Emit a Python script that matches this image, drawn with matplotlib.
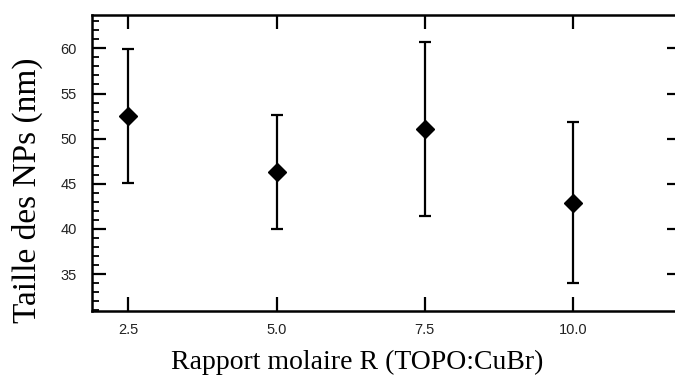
import numpy as np
import matplotlib
matplotlib.use('Agg')
from matplotlib import pyplot as plt
from matplotlib.ticker import MultipleLocator

# data
ratio = [2.5, 5.0, 7.5, 10.0]
size_nm = [52.5, 46.3, 51.1, 42.9]
err_low = [45.05, 40.0, 41.4, 34.0]
err_high = [59.9, 52.6, 60.7, 51.8]
xlabels = ['2.5', '5.0', '7.5', '10.0']

yerr = [np.array(size_nm) - np.array(err_low), np.array(err_high) - np.array(size_nm)]

fig = plt.figure(figsize=(6.75, 3.76), dpi=100)
# right spine sits just outside the picture, like in the original
ax = fig.add_axes([92/675, 1-311/376, (681-92)/675, (311-15)/376])

ax.errorbar(ratio, size_nm, yerr=yerr, fmt='D', color='black', ms=9,
            elinewidth=1.6, capsize=4, capthick=1.6, ecolor='black')

ax.set_xlim(1.888, 11.82)
ax.set_ylim(30.9, 63.7)
ax.set_xticks(ratio)
ax.set_xticklabels(xlabels)
ax.yaxis.set_major_locator(MultipleLocator(5))
ax.yaxis.set_minor_locator(MultipleLocator(1))

for s in ax.spines.values():
    s.set_linewidth(1.8)

ax.tick_params(axis='x', direction='in', length=10, width=1.6, top=True, pad=9)
ax.tick_params(axis='y', which='major', direction='in', length=10, width=1.6, right=True, pad=11)
ax.tick_params(axis='y', which='minor', direction='in', length=5, width=1.3, left=True, right=False)
for lab in ax.get_xticklabels() + ax.get_yticklabels():
    lab.set_fontfamily('Liberation Sans')
    lab.set_fontsize(10.5)
    lab.set_color('#222222')

ax.set_xlabel('Rapport molaire R (TOPO:CuBr)', family='Liberation Serif', fontsize=20)
ax.set_ylabel('Taille des NPs (nm)', family='Liberation Serif', fontsize=24)
ax.xaxis.set_label_coords((357 - 92) / 589, (311 - 350) / 296)
ax.yaxis.set_label_coords((43 - 92) / 589, (311 - 190) / 296)

fig.savefig('out.png', dpi=100)
